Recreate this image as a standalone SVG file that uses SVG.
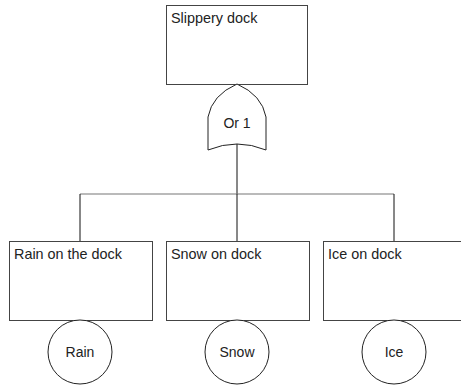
<svg xmlns="http://www.w3.org/2000/svg" width="461" height="389" viewBox="0 0 461 389">
<style>
.box{fill:#fff;stroke:#444;stroke-width:1}
.circ{fill:#fff;stroke:#222;stroke-width:1}
.t{font-family:"Liberation Sans",Arial,sans-serif;font-size:14.4px;fill:#222}
.c{text-anchor:middle;font-size:14px}
.wire{fill:none;stroke:#111;stroke-width:1}
.bus{fill:none;stroke:#777;stroke-width:1.2}
</style>
<rect width="461" height="389" fill="#fff"/>
<g id="connectors">
<path class="wire" d="M237,144 V194"/>
<path class="bus" d="M80,194 H394"/>
<path class="wire" d="M80,194 V241"/>
<path class="wire" d="M237,194 V241"/>
<path class="wire" d="M394,194 V241"/>
</g>
<g id="slippery-dock">
<rect class="box" x="166.5" y="5.5" width="141" height="79"/>
<text class="t" x="171" y="23">Slippery dock</text>
</g>
<g id="or1">
<path class="box" style="stroke:#222" d="M208,150 L208,117 Q212,95 237,84 Q262,95 266,117 L266,150 Q237,138 208,150 Z"/>
<text class="t c" x="237" y="128">Or 1</text>
</g>
<g id="rain-on-the-dock">
<rect class="box" x="9.5" y="241.5" width="143" height="79"/>
<text class="t" x="14" y="259">Rain on the dock</text>
</g>
<g id="snow-on-dock">
<rect class="box" x="166.5" y="241.5" width="143" height="79"/>
<text class="t" x="171" y="259">Snow on dock</text>
</g>
<g id="ice-on-dock">
<rect class="box" x="323.5" y="241.5" width="143" height="79"/>
<text class="t" x="328" y="259">Ice on dock</text>
</g>
<g id="rain">
<circle class="circ" cx="80" cy="352" r="32"/>
<text class="t c" x="80" y="357">Rain</text>
</g>
<g id="snow">
<circle class="circ" cx="237" cy="352" r="32"/>
<text class="t c" x="237" y="357">Snow</text>
</g>
<g id="ice">
<circle class="circ" cx="394" cy="352" r="32"/>
<text class="t c" x="394" y="357">Ice</text>
</g>
</svg>
